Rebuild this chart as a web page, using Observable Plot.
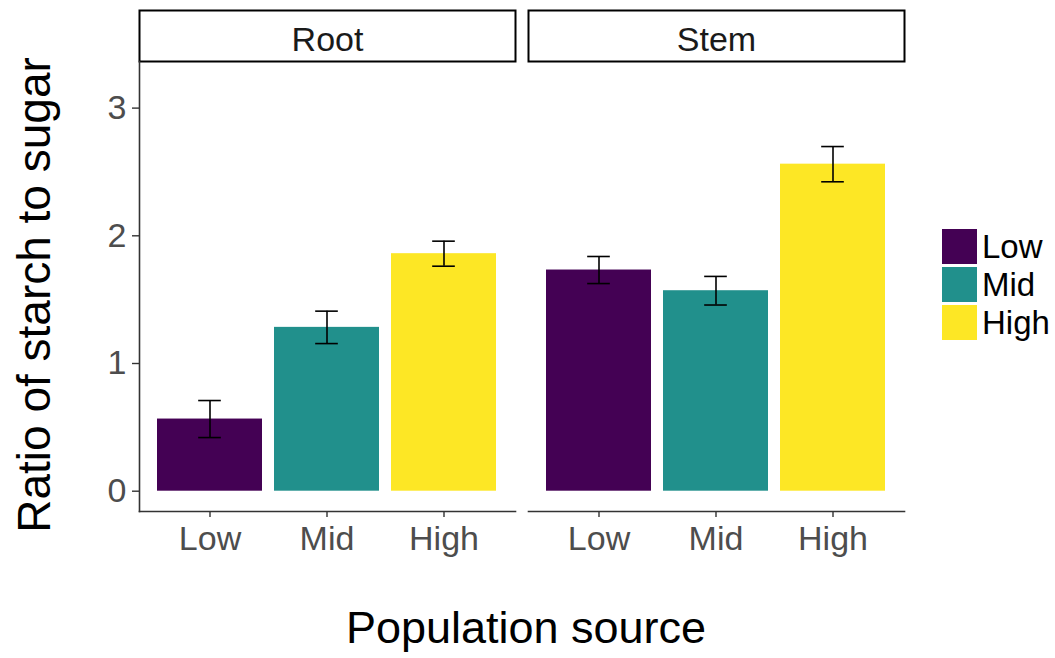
<!DOCTYPE html>
<html>
<head>
<meta charset="utf-8">
<script src="https://cdn.jsdelivr.net/npm/d3@7"></script>
<script src="https://cdn.jsdelivr.net/npm/@observablehq/plot@0.6"></script>
<style>
  body { margin: 0; background: #fff; font-family: "Liberation Sans", Arial, sans-serif; }
  #chart { position: relative; width: 1055px; height: 658px; }
  #legend { position: absolute; left: 942px; top: 229px; display: flex; flex-direction: column; gap: 3px; }
  #legend .row { display: flex; align-items: center; height: 35px; }
  #legend .key { width: 35px; height: 35px; margin-right: 5px; }
  #legend .lab { font-size: 33px; color: #000; line-height: 35px; }
</style>
</head>
<body>
<div id="chart"></div>
<script>
// Starch:sugar ratio by tissue and population source (mean ± SE)
const tissues = ["Root", "Stem"];
const levels = ["Low", "Mid", "High"];
const rootMean = [0.565, 1.283, 1.860];
const rootSE   = [0.145, 0.127, 0.098];
const stemMean = [1.732, 1.570, 2.561];
const stemSE   = [0.106, 0.112, 0.138];
const levelColors = ["#440154", "#21908C", "#FDE725"];
const yTicks = [0, 1, 2, 3];

const rows = [];
levels.forEach((lv, i) => {
  rows.push({tissue: "Root", level: lv, mean: rootMean[i], se: rootSE[i]});
  rows.push({tissue: "Stem", level: lv, mean: stemMean[i], se: stemSE[i]});
});
rows.forEach(d => { d.lo = d.mean - d.se; d.hi = d.mean + d.se; });

// layout
const W = 1055, H = 658;
const ml = 139, mr = 150, mt = 61, mb = 147;
const stripH = 51;
const panelH = H - mt - mb;
const fxPad = 0.0334;
const xPadInner = 0.1, xPadOuter = 0.15;
const facetW = (W - ml - mr) / (2 - fxPad) * (1 - fxPad);
const xStep = facetW / (levels.length - xPadInner + 2 * xPadOuter);
const barW = xStep * (1 - xPadInner);
const capInset = (barW - 0.2 * xStep) / 2;

const font = '"Liberation Sans", Arial, sans-serif';

const plot = Plot.plot({
  width: W,
  height: H,
  marginLeft: ml,
  marginRight: mr,
  marginTop: mt,
  marginBottom: mb,
  style: {fontFamily: font, fontSize: "34px", color: "#4D4D4D", background: "transparent", overflow: "visible"},
  fx: {domain: tissues, paddingInner: fxPad, paddingOuter: 0, label: null},
  x: {domain: levels, paddingInner: xPadInner, paddingOuter: xPadOuter, label: null},
  y: {domain: [-0.159, 3.365], label: null},
  color: {domain: levels, range: levelColors},
  marks: [
    // facet strips
    Plot.frame({insetTop: -stripH, insetBottom: panelH, stroke: "#000", strokeWidth: 2, fill: "#fff"}),
    Plot.axisFx({anchor: "top", tickSize: 0, tickPadding: 11, fontSize: 34, fill: "#1A1A1A", label: null}),
    // bars and error bars
    Plot.barY(rows, {fx: "tissue", x: "level", y: "mean", fill: "level"}),
    Plot.ruleX(rows, {fx: "tissue", x: "level", y1: "lo", y2: "hi", stroke: "#000", strokeWidth: 1.6}),
    Plot.tickY(rows, {fx: "tissue", x: "level", y: "hi", inset: capInset, stroke: "#000", strokeWidth: 1.6}),
    Plot.tickY(rows, {fx: "tissue", x: "level", y: "lo", inset: capInset, stroke: "#000", strokeWidth: 1.6}),
    // axes
    Plot.axisY({ticks: yTicks, tickFormat: d => String(d), tickSize: 7, tickPadding: 6, stroke: "#333", strokeWidth: 1.4, fontSize: 34, fill: "#4D4D4D", label: null}),
    Plot.axisX({tickSize: 6, tickPadding: 8, stroke: "#333", strokeWidth: 1.4, fontSize: 34, fill: "#4D4D4D", label: null}),
    Plot.frame({anchor: "bottom", stroke: "#333", strokeWidth: 1.6}),
    Plot.frame({anchor: "left", facetAnchor: "left", stroke: "#333", strokeWidth: 1.6})
  ]
});

const svg = d3.select(plot);
svg.append("text")
  .attr("x", (ml + W - mr) / 2 + 4)
  .attr("y", 643)
  .attr("text-anchor", "middle")
  .attr("font-size", 45)
  .attr("font-family", font)
  .attr("fill", "#000")
  .text("Population source");
svg.append("text")
  .attr("transform", `translate(50,${mt + panelH / 2 + 9}) rotate(-90)`)
  .attr("text-anchor", "middle")
  .attr("font-size", 46)
  .attr("font-family", font)
  .attr("fill", "#000")
  .text("Ratio of starch to sugar");

const chart = document.getElementById("chart");
chart.appendChild(plot);

// legend
const legend = document.createElement("div");
legend.id = "legend";
levels.forEach((lv, i) => {
  const row = document.createElement("div");
  row.className = "row";
  const key = document.createElement("div");
  key.className = "key";
  key.style.background = levelColors[i];
  const lab = document.createElement("span");
  lab.className = "lab";
  lab.textContent = lv;
  row.appendChild(key);
  row.appendChild(lab);
  legend.appendChild(row);
});
chart.appendChild(legend);
</script>
</body>
</html>
